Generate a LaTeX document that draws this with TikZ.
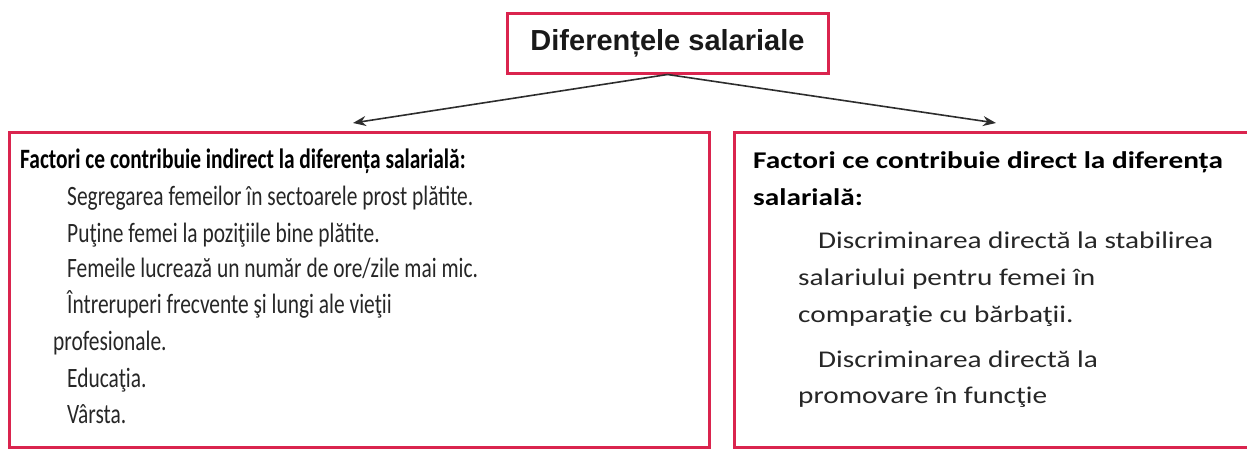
\documentclass[tikz,border=0pt]{standalone}
\usepackage{fontspec}
\usepackage{graphicx}
\setmainfont{Carlito}
\newfontfamily\arialfont{Liberation Sans}
\usetikzlibrary{arrows.meta}
\definecolor{boxred}{RGB}{218,36,78}
\definecolor{arrowgray}{RGB}{45,45,45}
\newcommand{\lefttxt}[1]{\scalebox{0.765}[1]{#1}}
\newcommand{\righttxt}[1]{\scalebox{1.22}[1]{#1}}
\tikzset{
  redbox/.style={draw=boxred, line width=3pt, fill=none, inner sep=0pt},
  txt/.style={anchor=base west, inner sep=0pt, text=black!85},
  txtl/.style={txt, font=\fontsize{28}{32}\selectfont},
  txtr/.style={txt, font=\fontsize{24}{28}\selectfont},
  conn/.style={draw=arrowgray, line width=1.6pt, -{Stealth[length=13pt,width=10pt]}}
}
\begin{document}
\begin{tikzpicture}[x=1pt,y=-1pt]
\useasboundingbox (0,0) rectangle (1247,450);
\clip (0,0) rectangle (1247,450);
\node[redbox, minimum width=321pt, minimum height=60pt, text=black!90, font=\arialfont\bfseries\fontsize{29}{33}\selectfont] (top) at (667.5,43) {Diferențele salariale};
\node[redbox, minimum width=700pt, minimum height=315pt] (left) at (359,289.5) {};
\node[redbox, minimum width=526pt, minimum height=315pt] (right) at (997,289.5) {};
\coordinate (lt) at (353,123);
\coordinate (rt) at (996,123);
\draw[conn] (top.south) -- (lt);
\draw[conn] (top.south) -- (rt);
% left box text
\node[txtl, font=\bfseries\fontsize{28}{32}\selectfont, text=black] (l0) at (20,168) {\lefttxt{Factori ce contribuie indirect la diferența salarială:}};
\node[txtl] (l1) at (67,205) {\lefttxt{Segregarea femeilor în sectoarele prost plătite.}};
\node[txtl] (l2) at (67,242) {\lefttxt{Puţine femei la poziţiile bine plătite.}};
\node[txtl] (l3) at (67,277) {\lefttxt{Femeile lucrează un număr de ore/zile mai mic.}};
\node[txtl] (l4) at (67,313) {\lefttxt{Întreruperi frecvente şi lungi ale vieţii}};
\node[txtl] (l5) at (53,350) {\lefttxt{profesionale.}};
\node[txtl] (l6) at (67,387) {\lefttxt{Educaţia.}};
\node[txtl] (l7) at (67,423) {\lefttxt{Vârsta.}};
% right box text
\node[txtr, font=\bfseries\fontsize{24}{28}\selectfont, text=black] (r0) at (753,168) {\righttxt{Factori ce contribuie direct la diferența}};
\node[txtr, font=\bfseries\fontsize{24}{28}\selectfont, text=black] (r1) at (753,205) {\righttxt{salarială:}};
\node[txtr] (r2) at (818,248) {\righttxt{Discriminarea directă la stabilirea}};
\node[txtr] (r3) at (798,285) {\righttxt{salariului pentru femei în}};
\node[txtr] (r4) at (798,322) {\righttxt{comparaţie cu bărbaţii.}};
\node[txtr] (r5) at (818,367) {\righttxt{Discriminarea directă la}};
\node[txtr] (r6) at (798,403) {\righttxt{promovare în funcţie}};
\end{tikzpicture}
\end{document}
